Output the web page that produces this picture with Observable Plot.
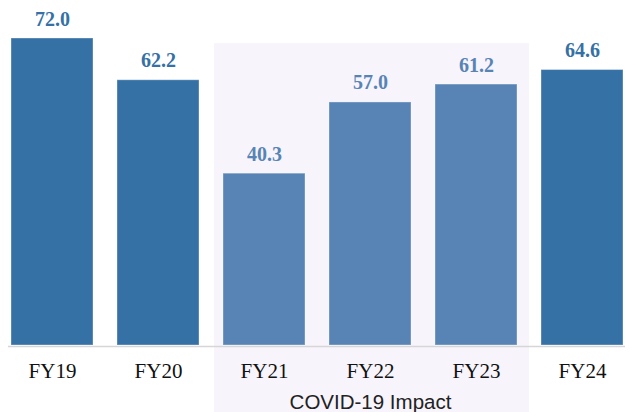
<!DOCTYPE html>
<html>
<head>
<meta charset="utf-8">
<script src="https://cdn.jsdelivr.net/npm/d3@7"></script>
<script src="https://cdn.jsdelivr.net/npm/@observablehq/plot@0.6"></script>
<style>
  html, body { margin: 0; padding: 0; background: #ffffff; }
  svg { display: block; }
</style>
</head>
<body>
<div id="chart"></div>
<script>
const years = ["FY19", "FY20", "FY21", "FY22", "FY23", "FY24"];
const values = [72.0, 62.2, 40.3, 57.0, 61.2, 64.6];
const covidYears = ["FY21", "FY22", "FY23"];
const covidLabel = "COVID-19 Impact";

const darkBlue = "#3571a5";
const lightBlue = "#5784b5";
const shade = "#f7f4fb";

const data = years.map((year, i) => ({year, value: values[i], covid: covidYears.includes(year)}));

const chart = Plot.plot({
  width: 630,
  height: 412,
  marginTop: 38,
  marginBottom: 67,
  marginLeft: 8,
  marginRight: 5,
  style: {background: "#ffffff", overflow: "visible", fontFamily: "'Liberation Serif', 'Times New Roman', serif", fontSize: "21px"},
  x: {domain: years, paddingInner: 0.23, paddingOuter: 0, label: null},
  y: {domain: [0, 72], axis: null},
  marks: [
    // COVID shaded region
    Plot.barY(["FY21"], {x: d => d, y1: -16, y2: 70.8, fill: shade, insetLeft: -9, insetRight: -13, clip: false}),
    Plot.barY(["FY22", "FY23"], {x: d => d, y1: -16, y2: 70.8, fill: shade, insetLeft: -13, insetRight: -12, clip: false}),
    Plot.ruleY([0], {stroke: "#d6d6d6", strokeWidth: 1.5, dy: 1}),
    Plot.barY(data, {
      x: "year", y: "value",
      fill: d => d.covid ? lightBlue : darkBlue,
      stroke: "#ffffff", strokeOpacity: 0.35, strokeWidth: 1
    }),
    Plot.text(data, {
      x: "year", y: "value",
      text: d => d.value.toFixed(1),
      fill: d => d.covid ? lightBlue : darkBlue,
      lineAnchor: "bottom", dy: -13,
      fontFamily: "Liberation Serif", fontWeight: "bold", fontSize: 20
    }),
    Plot.axisX({
      tickSize: 0, tickPadding: 18,
      fontFamily: "Liberation Serif", fontSize: 21,
      fill: "#111", label: null
    }),
    Plot.text([covidLabel], {
      x: () => "FY22",
      text: d => d,
      frameAnchor: "bottom", lineAnchor: "bottom", dy: 63,
      fontFamily: "Liberation Sans", fontSize: 20.5, fill: "#222"
    })
  ]
});

document.getElementById("chart").appendChild(chart);
</script>
</body>
</html>
